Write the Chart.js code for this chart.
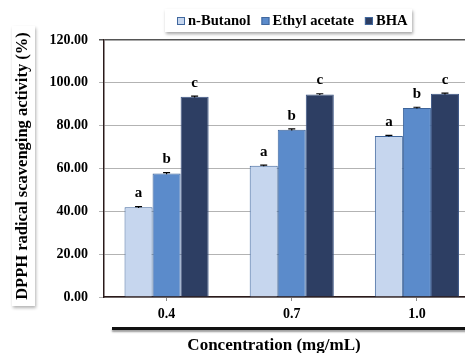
<!DOCTYPE html>
<html>
<head>
<meta charset="utf-8">
<script src="https://cdn.jsdelivr.net/npm/chart.js@4/dist/chart.umd.min.js"></script>
<style>
  html, body { margin: 0; padding: 0; background: #fff; overflow: hidden; }
  #wrap { width: 490px; height: 353px; }
</style>
</head>
<body>
<div id="wrap"><canvas id="chart" width="490" height="353"></canvas></div>
<script>
// Datos
const categories = ['0.4', '0.7', '1.0'];
const butanol = [41.9, 61.3, 75.2];
const ethylAcetate = [57.7, 78.1, 88.3];
const bha = [93.5, 94.6, 94.9];
const butanolErr = [0.3, 0.3, 0.3];
const ethylErr = [0.4, 0.4, 0.3];
const bhaErr = [0.3, 0.3, 0.3];
const butanolLetters = ['a', 'a', 'a'];
const ethylLetters = ['b', 'b', 'b'];
const bhaLetters = ['c', 'c', 'c'];
const yTicks = [0, 20, 40, 60, 80, 100, 120];

const serif = '"Liberation Serif", "DejaVu Serif", serif';

// Barras de error + letras
const extrasPlugin = {
  id: 'extras',
  afterDatasetsDraw(chart) {
    const ctx = chart.ctx;
    const y = chart.scales.y;
    chart.data.datasets.forEach((ds, i) => {
      const meta = chart.getDatasetMeta(i);
      meta.data.forEach((bar, j) => {
        const v = ds.data[j], e = ds.err[j];
        const yt = y.getPixelForValue(v + e), yb = y.getPixelForValue(v - e);
        ctx.save();
        ctx.strokeStyle = '#000';
        ctx.lineWidth = 1.2;
        ctx.beginPath();
        ctx.moveTo(bar.x, yt); ctx.lineTo(bar.x, yb);
        ctx.moveTo(bar.x - 3.5, yt); ctx.lineTo(bar.x + 3.5, yt);
        ctx.stroke();
        ctx.fillStyle = '#000';
        ctx.font = 'bold 15px ' + serif;
        ctx.textAlign = 'center';
        ctx.textBaseline = 'middle';
        ctx.fillText(ds.letters[j], bar.x, y.getPixelForValue(v) - 14);
        ctx.restore();
      });
    });
  }
};

// Leyenda, títulos y línea inferior
const decorPlugin = {
  id: 'decor',
  afterDraw(chart) {
    const ctx = chart.ctx;
    ctx.save();
    // caja de leyenda
    ctx.shadowColor = 'rgba(0,0,0,0.35)';
    ctx.shadowBlur = 3;
    ctx.shadowOffsetX = 1;
    ctx.shadowOffsetY = 2;
    ctx.fillStyle = '#fff';
    ctx.fillRect(165, 9, 247, 23);
    ctx.shadowColor = 'transparent';
    ctx.font = 'bold 14.6px ' + serif;
    ctx.textBaseline = 'middle';
    ctx.textAlign = 'left';
    let x = 177;
    chart.data.datasets.forEach(ds => {
      ctx.fillStyle = ds.backgroundColor;
      ctx.fillRect(x, 17, 8, 8);
      ctx.strokeStyle = '#41689e';
      ctx.lineWidth = 1;
      ctx.strokeRect(x + 0.5, 17.5, 7, 7);
      ctx.fillStyle = '#000';
      ctx.fillText(ds.label, x + 11, 21);
      x += 11 + ctx.measureText(ds.label).width + 11;
    });

    // caja del título Y
    ctx.shadowColor = 'rgba(0,0,0,0.3)';
    ctx.shadowBlur = 3;
    ctx.shadowOffsetX = 1;
    ctx.shadowOffsetY = 2;
    ctx.fillStyle = '#fff';
    ctx.fillRect(12, 26, 23, 280);
    ctx.shadowColor = 'transparent';
    ctx.translate(23, 166);
    ctx.rotate(-Math.PI / 2);
    ctx.fillStyle = '#000';
    ctx.font = 'bold 16.5px ' + serif;
    ctx.textAlign = 'center';
    ctx.textBaseline = 'middle';
    ctx.fillText('DPPH radical scavenging activity (%)', 0, 0);
    ctx.restore();

    // línea gruesa bajo el eje X
    ctx.save();
    ctx.shadowColor = 'rgba(0,0,0,0.4)';
    ctx.shadowBlur = 2;
    ctx.shadowOffsetY = 2;
    ctx.fillStyle = '#111';
    ctx.fillRect(112, 327, 380, 3);
    ctx.shadowColor = 'transparent';
    ctx.fillStyle = '#000';
    ctx.font = 'bold 17px ' + serif;
    ctx.textAlign = 'center';
    ctx.textBaseline = 'middle';
    ctx.fillText('Concentration (mg/mL)', 274, 346);
    ctx.restore();
  }
};

new Chart(document.getElementById('chart'), {
  type: 'bar',
  data: {
    labels: categories,
    datasets: [
      { label: 'n-Butanol', data: butanol, err: butanolErr, letters: butanolLetters,
        backgroundColor: '#c6d6ee', borderColor: '#41689e', borderWidth: 1 },
      { label: 'Ethyl acetate', data: ethylAcetate, err: ethylErr, letters: ethylLetters,
        backgroundColor: '#5b8bcb', borderColor: '#3d6399', borderWidth: 1 },
      { label: 'BHA', data: bha, err: bhaErr, letters: bhaLetters,
        backgroundColor: '#2d3e63', borderColor: '#3b5585', borderWidth: 1 }
    ]
  },
  options: {
    responsive: false,
    animation: false,
    layout: { padding: { top: 40, right: 10.5, left: 0, bottom: 0 } },
    datasets: { bar: { categoryPercentage: 0.672, barPercentage: 1 } },
    plugins: { legend: { display: false }, tooltip: { enabled: false } },
    scales: {
      x: {
        afterFit: s => { s.height = 56; },
        grid: { drawOnChartArea: false, tickLength: 4, color: '#888', offset: false },
        border: { color: '#2a1a1a', width: 1.5 },
        ticks: { color: '#000', padding: 5, font: { family: serif, size: 14, weight: 'bold' } }
      },
      y: {
        min: 0, max: 120,
        afterFit: s => { s.width = 104; },
        afterBuildTicks: s => { s.ticks = yTicks.map(v => ({ value: v })); },
        grid: {
          tickLength: 5,
          color: c => (c.tick && c.tick.value === 120) ? '#555' : '#b3b3b3',
          lineWidth: c => (c.tick && c.tick.value === 120) ? 1.5 : 1
        },
        border: { color: '#2a1a1a', width: 1.5 },
        ticks: {
          color: '#000', padding: 11,
          font: { family: serif, size: 14, weight: 'bold' },
          callback: v => Number(v).toFixed(2)
        }
      }
    }
  },
  plugins: [extrasPlugin, decorPlugin]
});
</script>
</body>
</html>
